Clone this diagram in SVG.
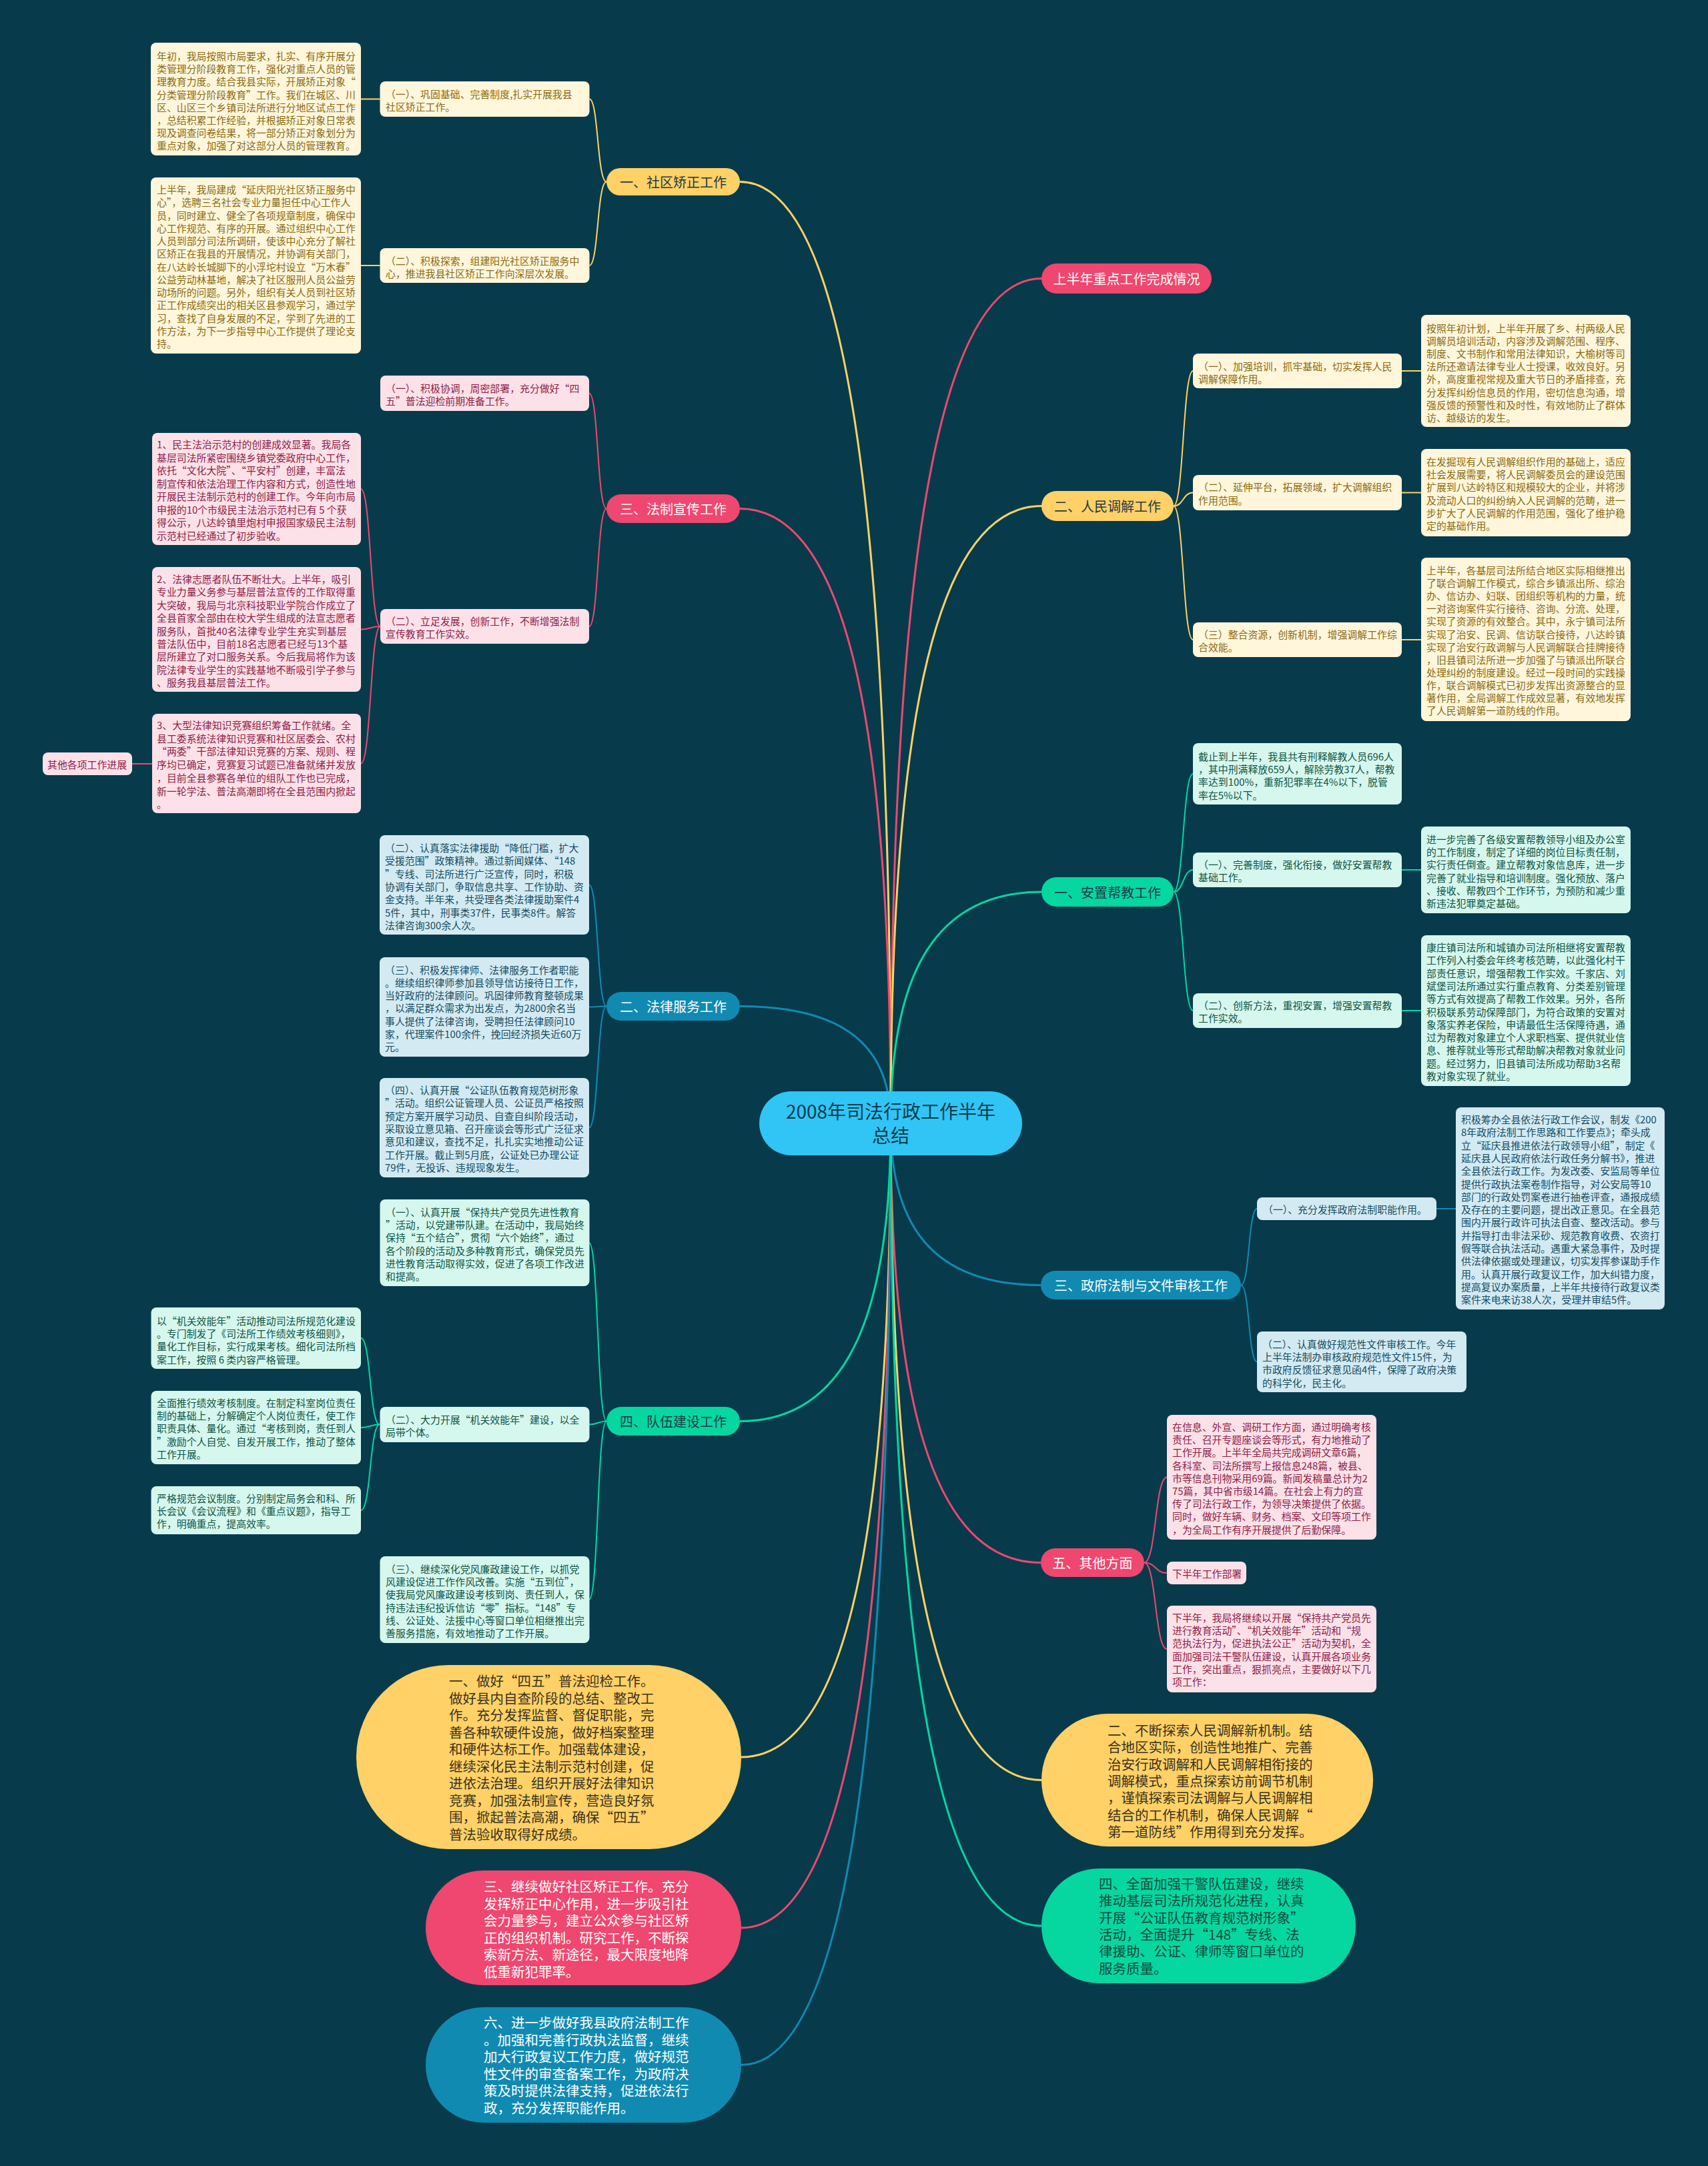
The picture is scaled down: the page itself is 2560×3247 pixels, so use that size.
<svg xmlns="http://www.w3.org/2000/svg" width="2560" height="3247" viewBox="0 0 2560 3247">
<style>
text{font-family:"Noto Sans CJK SC","Noto Sans",sans-serif;dominant-baseline:central}
.s{font-size:14.9px}
.m{font-size:20px;text-anchor:middle}
.o{font-size:20.5px}
.cy{fill:#ffd166}.cp{fill:#ef476f}.cg{fill:#06d6a0}.cb{fill:#118ab2}
.sy{fill:#fff6dc}.sp{fill:#fde1e8}.sg{fill:#d6f7ee}.sb{fill:#d3eaf3}
.ty{fill:#8a6a12}.tp{fill:#8c2146}.tg{fill:#0f5444}.tb{fill:#164c60}
.tw{fill:#ffffff}.td{fill:#1d3a46}
.ly{stroke:#ffd166}.lp{stroke:#ef476f}.lg{stroke:#06d6a0}.lb{stroke:#118ab2}
#connectors path{fill:none;stroke-width:2}
#connectors .main{stroke-width:3}
</style>
<rect x="0" y="0" width="2560" height="3247" fill="#073b4c"/>
<g id="connectors">
<path class="main ly" d="M1335,1684 C1335,837 1278.5,272.5 1109,272.5"/>
<path class="main lp" d="M1335,1684 C1335,1131 1278.5,762.5 1109,762.5"/>
<path class="main lb" d="M1335,1684 C1335,1579 1278.5,1508.5 1109,1508.5"/>
<path class="main lg" d="M1335,1684 C1335,1952 1278.5,2130.5 1109,2130.5"/>
<path class="main ly" d="M1335,1684 C1335,2254 1279,2634 1111,2634"/>
<path class="main lp" d="M1335,1684 C1335,2408 1279,2890 1111,2890"/>
<path class="main lb" d="M1335,1684 C1335,2531 1279,3095.5 1111,3095.5"/>
<path class="main lp" d="M1335,1684 C1335,924 1391.5,417.5 1561,417.5"/>
<path class="main ly" d="M1335,1684 C1335,1129 1391.5,758.5 1561,758.5"/>
<path class="main lg" d="M1335,1684 C1335,1476 1391.5,1337 1561,1337"/>
<path class="main lb" d="M1335,1684 C1335,1830 1391.5,1926.5 1560,1926.5"/>
<path class="main lp" d="M1335,1684 C1335,2079 1391.5,2342.5 1560,2342.5"/>
<path class="main ly" d="M1335,1684 C1335,2275 1391.5,2668.5 1561,2668.5"/>
<path class="main lg" d="M1335,1684 C1335,2406 1391.5,2887 1561,2887"/>
<path class="ly" d="M909,272.5 C895,272.5 897,148.5 883.5,148.5"/>
<path class="ly" d="M909,272.5 C895,272.5 897,398 883.5,398"/>
<path class="ly" d="M541,148.5 H569.5"/>
<path class="ly" d="M541,398 H569.5"/>
<path class="lp" d="M909,762.5 C895,762.5 897,589.5 883,589.5"/>
<path class="lp" d="M909,762.5 C895,762.5 897,939 883,939"/>
<path class="lp" d="M570,939 C555,939 556,733 541,733"/>
<path class="lp" d="M570,939 C555,939 556,943.5 541,943.5"/>
<path class="lp" d="M570,939 C555,939 556,1144.5 541,1144.5"/>
<path class="lp" d="M228,1145 H198"/>
<path class="lb" d="M909,1508.5 C895,1508.5 897,1326.5 883,1326.5"/>
<path class="lb" d="M909,1508.5 C895,1508.5 897,1509.5 883,1509.5"/>
<path class="lb" d="M909,1508.5 C895,1508.5 897,1690.5 883,1690.5"/>
<path class="lg" d="M909,2130.5 C895,2130.5 897,1863 883,1863"/>
<path class="lg" d="M909,2130.5 C895,2130.5 897,2135.5 883,2135.5"/>
<path class="lg" d="M909,2130.5 C895,2130.5 897,2398 883,2398"/>
<path class="lg" d="M569,2135.5 C554,2135.5 556,2006 541,2006"/>
<path class="lg" d="M569,2135.5 C554,2135.5 556,2140 541,2140"/>
<path class="lg" d="M569,2135.5 C554,2135.5 556,2264 541,2264"/>
<path class="ly" d="M1759,758.5 C1774,758.5 1773,556 1788,556"/>
<path class="ly" d="M1759,758.5 C1774,758.5 1773,738.5 1788,738.5"/>
<path class="ly" d="M1759,758.5 C1774,758.5 1773,959 1788,959"/>
<path class="ly" d="M2101,556 H2130"/>
<path class="ly" d="M2101,738.5 H2130"/>
<path class="ly" d="M2101,959 H2130"/>
<path class="lg" d="M1759,1337 C1774,1337 1773,1160 1788,1160"/>
<path class="lg" d="M1759,1337 C1774,1337 1773,1304 1788,1304"/>
<path class="lg" d="M1759,1337 C1774,1337 1773,1515 1788,1515"/>
<path class="lg" d="M2101,1304 H2130"/>
<path class="lg" d="M2101,1515 H2130"/>
<path class="lb" d="M1860,1926.5 C1873,1926.5 1871,1812 1884,1812"/>
<path class="lb" d="M1860,1926.5 C1873,1926.5 1871,2041.5 1884,2041.5"/>
<path class="lb" d="M2153,1812 H2182"/>
<path class="lp" d="M1715,2342.5 C1733,2342.5 1731,2214.5 1749,2214.5"/>
<path class="lp" d="M1715,2342.5 C1733,2342.5 1731,2358 1749,2358"/>
<path class="lp" d="M1715,2342.5 C1733,2342.5 1731,2472 1749,2472"/>
</g>

<g id="center"><rect x="1138" y="1636" width="394" height="96" rx="48" fill="#30c5f5"/>
<text font-size="28" text-anchor="middle" fill="#0b3a4c"><tspan x="1335" y="1665">2008年司法行政工作半年</tspan><tspan x="1335" y="1701">总结</tspan></text></g>

<g id="n-shequ"><rect class="cy" x="909" y="252" width="200" height="41" rx="20.5"/><text class="m td" x="1009" y="272.5">一、社区矫正工作</text></g>
<g id="n-fazhi"><rect class="cp" x="909" y="741" width="200" height="43" rx="21.5"/><text class="m tw" x="1009" y="762.5">三、法制宣传工作</text></g>
<g id="n-falv"><rect class="cb" x="909" y="1487" width="200" height="43" rx="21.5"/><text class="m tw" x="1009" y="1508.5">二、法律服务工作</text></g>
<g id="n-duiwu"><rect class="cg" x="909" y="2109" width="200" height="43" rx="21.5"/><text class="m td" x="1009" y="2130.5">四、队伍建设工作</text></g>
<g id="n-shangban"><rect class="cp" x="1561" y="395" width="255" height="45" rx="22.5"/><text class="m tw" x="1688.5" y="417.5" font-size="19">上半年重点工作完成情况</text></g>
<g id="n-tiaojie"><rect class="cy" x="1561" y="736" width="198" height="45" rx="22.5"/><text class="m td" x="1660" y="758.5">二、人民调解工作</text></g>
<g id="n-anzhi"><rect class="cg" x="1561" y="1315" width="198" height="44" rx="22"/><text class="m td" x="1660" y="1337">一、安置帮教工作</text></g>
<g id="n-zhengfu"><rect class="cb" x="1560" y="1905" width="300" height="43" rx="21.5"/><text class="m tw" x="1710" y="1926.5">三、政府法制与文件审核工作</text></g>
<g id="n-qita"><rect class="cp" x="1560" y="2321" width="155" height="43" rx="21.5"/><text class="m tw" x="1637.5" y="2342.5">五、其他方面</text></g>

<g id="s-a"><rect class="sy" x="226" y="64" width="315" height="169" rx="8"/><text class="s ty"><tspan x="235" y="83">年初，我局按照市局要求，扎实、有序开展分</tspan><tspan x="235" y="102.2">类管理分阶段教育工作，强化对重点人员的管</tspan><tspan x="235" y="121.4">理教育力度。结合我县实际，开展矫正对象“</tspan><tspan x="235" y="140.6">分类管理分阶段教育”工作。我们在城区、川</tspan><tspan x="235" y="159.8">区、山区三个乡镇司法所进行分地区试点工作</tspan><tspan x="235" y="179">，总结积累工作经验，并根据矫正对象日常表</tspan><tspan x="235" y="198.2">现及调查问卷结果，将一部分矫正对象划分为</tspan><tspan x="235" y="217.4">重点对象，加强了对这部分人员的管理教育。</tspan></text></g>
<g id="s-b"><rect class="sy" x="569.5" y="122" width="314" height="53" rx="8"/><text class="s ty"><tspan x="578" y="140">（一）、巩固基础、完善制度,扎实开展我县</tspan><tspan x="578" y="159">社区矫正工作。</tspan></text></g>
<g id="s-c"><rect class="sy" x="226" y="266" width="315" height="264" rx="8"/><text class="s ty"><tspan x="235" y="283">上半年，我局建成“延庆阳光社区矫正服务中</tspan><tspan x="235" y="302.2">心”，选聘三名社会专业力量担任中心工作人</tspan><tspan x="235" y="321.5">员，同时建立、健全了各项规章制度，确保中</tspan><tspan x="235" y="340.7">心工作规范、有序的开展。通过组织中心工作</tspan><tspan x="235" y="360">人员到部分司法所调研，使该中心充分了解社</tspan><tspan x="235" y="379.2">区矫正在我县的开展情况，并协调有关部门，</tspan><tspan x="235" y="398.5">在八达岭长城脚下的小浮坨村设立“万木春”</tspan><tspan x="235" y="417.7">公益劳动林基地，解决了社区服刑人员公益劳</tspan><tspan x="235" y="437">动场所的问题。另外，组织有关人员到社区矫</tspan><tspan x="235" y="456.2">正工作成绩突出的相关区县参观学习，通过学</tspan><tspan x="235" y="475.5">习，查找了自身发展的不足，学到了先进的工</tspan><tspan x="235" y="494.7">作方法，为下一步指导中心工作提供了理论支</tspan><tspan x="235" y="514">持。</tspan></text></g>
<g id="s-d"><rect class="sy" x="569.5" y="372" width="314" height="52" rx="8"/><text class="s ty"><tspan x="578" y="390">（二）、积极探索，组建阳光社区矫正服务中</tspan><tspan x="578" y="409">心，推进我县社区矫正工作向深层次发展。</tspan></text></g>

<g id="s-p1"><rect class="sp" x="570" y="563" width="313" height="53" rx="8"/><text class="s tp"><tspan x="578" y="581">（一）、积极协调，周密部署，充分做好“四</tspan><tspan x="578" y="600">五”普法迎检前期准备工作。</tspan></text></g>
<g id="s-p2"><rect class="sp" x="570" y="913" width="313" height="52" rx="8"/><text class="s tp"><tspan x="578" y="930">（二）、立足发展，创新工作，不断增强法制</tspan><tspan x="578" y="949">宣传教育工作实效。</tspan></text></g>
<g id="s-n1"><rect class="sp" x="228" y="649" width="313" height="168" rx="8"/><text class="s tp"><tspan x="235" y="665">1、民主法治示范村的创建成效显著。我局各</tspan><tspan x="235" y="684.5">基层司法所紧密围绕乡镇党委政府中心工作，</tspan><tspan x="235" y="704">依托“文化大院”、“平安村”创建，丰富法</tspan><tspan x="235" y="723.5">制宣传和依法治理工作内容和方式，创造性地</tspan><tspan x="235" y="743">开展民主法制示范村的创建工作。今年向市局</tspan><tspan x="235" y="762.5">申报的10个市级民主法治示范村已有 5 个获</tspan><tspan x="235" y="782">得公示，八达岭镇里炮村申报国家级民主法制</tspan><tspan x="235" y="801.5">示范村已经通过了初步验收。</tspan></text></g>
<g id="s-n2"><rect class="sp" x="228" y="850" width="313" height="187" rx="8"/><text class="s tp"><tspan x="235" y="867">2、法律志愿者队伍不断壮大。上半年，吸引</tspan><tspan x="235" y="886.4">专业力量义务参与基层普法宣传的工作取得重</tspan><tspan x="235" y="905.8">大突破，我局与北京科技职业学院合作成立了</tspan><tspan x="235" y="925.2">全县首家全部由在校大学生组成的法宣志愿者</tspan><tspan x="235" y="944.6">服务队，首批40名法律专业学生充实到基层</tspan><tspan x="235" y="964">普法队伍中，目前18名志愿者已经与13个基</tspan><tspan x="235" y="983.4">层所建立了对口服务关系。今后我局将作为该</tspan><tspan x="235" y="1002.8">院法律专业学生的实践基地不断吸引学子参与</tspan><tspan x="235" y="1022.2">、服务我县基层普法工作。</tspan></text></g>
<g id="s-n3"><rect class="sp" x="228" y="1070" width="313" height="149" rx="8"/><text class="s tp"><tspan x="235" y="1086">3、大型法律知识竞赛组织筹备工作就绪。全</tspan><tspan x="235" y="1105.7">县工委系统法律知识竞赛和社区居委会、农村</tspan><tspan x="235" y="1125.4">“两委”干部法律知识竞赛的方案、规则、程</tspan><tspan x="235" y="1145.1">序均已确定，竞赛复习试题已准备就绪并发放</tspan><tspan x="235" y="1164.8">，目前全县参赛各单位的组队工作也已完成，</tspan><tspan x="235" y="1184.5">新一轮学法、普法高潮即将在全县范围内掀起</tspan><tspan x="235" y="1204.2">。</tspan></text></g>
<g id="s-qita"><rect class="sp" x="64" y="1128" width="134" height="34" rx="8"/><text class="s tp" x="71" y="1145">其他各项工作进展</text></g>

<g id="s-l1"><rect class="sb" x="569" y="1252" width="314" height="149" rx="8"/><text class="s tb"><tspan x="577" y="1270">（二）、认真落实法律援助“降低门槛，扩大</tspan><tspan x="577" y="1289.3">受援范围”政策精神。通过新闻媒体、“148</tspan><tspan x="577" y="1308.6">”专线、司法所进行广泛宣传，同时，积极</tspan><tspan x="577" y="1327.9">协调有关部门，争取信息共享、工作协助、资</tspan><tspan x="577" y="1347.2">金支持。半年来，共受理各类法律援助案件4</tspan><tspan x="577" y="1366.5">5件，其中，刑事类37件，民事类8件。解答</tspan><tspan x="577" y="1385.8">法律咨询300余人次。</tspan></text></g>
<g id="s-l2"><rect class="sb" x="569" y="1435" width="314" height="149" rx="8"/><text class="s tb"><tspan x="577" y="1452.5">（三）、积极发挥律师、法律服务工作者职能</tspan><tspan x="577" y="1471.8">。继续组织律师参加县领导信访接待日工作，</tspan><tspan x="577" y="1491.1">当好政府的法律顾问。巩固律师教育整顿成果</tspan><tspan x="577" y="1510.4">，以满足群众需求为出发点，为2800余名当</tspan><tspan x="577" y="1529.7">事人提供了法律咨询，受聘担任法律顾问10</tspan><tspan x="577" y="1549">家，代理案件100余件，挽回经济损失近60万</tspan><tspan x="577" y="1568.3">元。</tspan></text></g>
<g id="s-l3"><rect class="sb" x="569" y="1616" width="314" height="149" rx="8"/><text class="s tb"><tspan x="577" y="1633">（四）、认真开展“公证队伍教育规范树形象</tspan><tspan x="577" y="1652.3">”活动。组织公证管理人员、公证员严格按照</tspan><tspan x="577" y="1671.6">预定方案开展学习动员、自查自纠阶段活动，</tspan><tspan x="577" y="1690.9">采取设立意见箱、召开座谈会等形式广泛征求</tspan><tspan x="577" y="1710.2">意见和建议，查找不足，扎扎实实地推动公证</tspan><tspan x="577" y="1729.5">工作开展。截止到5月底，公证处已办理公证</tspan><tspan x="577" y="1748.8">79件，无投诉、违规现象发生。</tspan></text></g>

<g id="s-t1"><rect class="sg" x="569.5" y="1798" width="314" height="130" rx="8"/><text class="s tg"><tspan x="578" y="1816">（一）、认真开展“保持共产党员先进性教育</tspan><tspan x="578" y="1835.2">”活动，以党建带队建。在活动中，我局始终</tspan><tspan x="578" y="1854.4">保持“五个结合”，贯彻“六个始终”，通过</tspan><tspan x="578" y="1873.6">各个阶段的活动及多种教育形式，确保党员先</tspan><tspan x="578" y="1892.8">进性教育活动取得实效，促进了各项工作改进</tspan><tspan x="578" y="1912">和提高。</tspan></text></g>
<g id="s-t2"><rect class="sg" x="569.5" y="2109" width="314" height="53" rx="8"/><text class="s tg"><tspan x="578" y="2127">（二）、大力开展“机关效能年”建设，以全</tspan><tspan x="578" y="2146">局带个体。</tspan></text></g>
<g id="s-t3"><rect class="sg" x="569.5" y="2333" width="314" height="130" rx="8"/><text class="s tg"><tspan x="578" y="2351">（三）、继续深化党风廉政建设工作，以抓党</tspan><tspan x="578" y="2370.2">风建设促进工作作风改善。实施“五到位”，</tspan><tspan x="578" y="2389.4">使我局党风廉政建设考核到岗、责任到人，保</tspan><tspan x="578" y="2408.6">持违法违纪投诉信访“零”指标。“148”专</tspan><tspan x="578" y="2427.8">线、公证处、法援中心等窗口单位相继推出完</tspan><tspan x="578" y="2447">善服务措施，有效地推动了工作开展。</tspan></text></g>
<g id="s-s1"><rect class="sg" x="226.5" y="1960" width="314.5" height="92" rx="8"/><text class="s tg"><tspan x="235" y="1979">以“机关效能年”活动推动司法所规范化建设</tspan><tspan x="235" y="1998.2">。专门制发了《司法所工作绩效考核细则》，</tspan><tspan x="235" y="2017.4">量化工作目标，实行成果考核。细化司法所档</tspan><tspan x="235" y="2036.6">案工作，按照 6 类内容严格管理。</tspan></text></g>
<g id="s-s2"><rect class="sg" x="226.5" y="2085" width="314.5" height="110" rx="8"/><text class="s tg"><tspan x="235" y="2102">全面推行绩效考核制度。在制定科室岗位责任</tspan><tspan x="235" y="2121.2">制的基础上，分解确定个人岗位责任，使工作</tspan><tspan x="235" y="2140.4">职责具体、量化。通过“考核到岗，责任到人</tspan><tspan x="235" y="2159.6">”激励个人自觉、自发开展工作，推动了整体</tspan><tspan x="235" y="2178.8">工作开展。</tspan></text></g>
<g id="s-s3"><rect class="sg" x="226.5" y="2228" width="314.5" height="72" rx="8"/><text class="s tg"><tspan x="235" y="2245">严格规范会议制度。分别制定局务会和科、所</tspan><tspan x="235" y="2264.2">长会议《会议流程》和《重点议题》，指导工</tspan><tspan x="235" y="2283.4">作，明确重点，提高效率。</tspan></text></g>

<g id="o-y1"><rect class="cy" x="534" y="2496" width="577" height="276" rx="138"/><text class="o" fill="#3a3320"><tspan x="673" y="2519">一、做好“四五”普法迎检工作。</tspan><tspan x="673" y="2544.5">做好县内自查阶段的总结、整改工</tspan><tspan x="673" y="2570">作。充分发挥监督、督促职能，完</tspan><tspan x="673" y="2595.5">善各种软硬件设施，做好档案整理</tspan><tspan x="673" y="2621">和硬件达标工作。加强载体建设，</tspan><tspan x="673" y="2646.5">继续深化民主法制示范村创建，促</tspan><tspan x="673" y="2672">进依法治理。组织开展好法律知识</tspan><tspan x="673" y="2697.5">竞赛，加强法制宣传，营造良好氛</tspan><tspan x="673" y="2723">围，掀起普法高潮，确保“四五”</tspan><tspan x="673" y="2748.5">普法验收取得好成绩。</tspan></text></g>
<g id="o-p"><rect class="cp" x="638" y="2804" width="473" height="172" rx="86"/><text class="o tw"><tspan x="725" y="2827">三、继续做好社区矫正工作。充分</tspan><tspan x="725" y="2852.5">发挥矫正中心作用，进一步吸引社</tspan><tspan x="725" y="2878">会力量参与，建立公众参与社区矫</tspan><tspan x="725" y="2903.5">正的组织机制。研究工作，不断探</tspan><tspan x="725" y="2929">索新方法、新途径，最大限度地降</tspan><tspan x="725" y="2954.5">低重新犯罪率。</tspan></text></g>
<g id="o-b"><rect class="cb" x="638" y="3009" width="473" height="173" rx="86.5"/><text class="o tw"><tspan x="725" y="3031">六、进一步做好我县政府法制工作</tspan><tspan x="725" y="3056.5">。加强和完善行政执法监督，继续</tspan><tspan x="725" y="3082">加大行政复议工作力度，做好规范</tspan><tspan x="725" y="3107.5">性文件的审查备案工作，为政府决</tspan><tspan x="725" y="3133">策及时提供法律支持，促进依法行</tspan><tspan x="725" y="3158.5">政，充分发挥职能作用。</tspan></text></g>
<g id="o-y2"><rect class="cy" x="1561" y="2569" width="497" height="199" rx="99.5"/><text class="o" fill="#3a3320"><tspan x="1660" y="2593">二、不断探索人民调解新机制。结</tspan><tspan x="1660" y="2618.3">合地区实际，创造性地推广、完善</tspan><tspan x="1660" y="2643.6">治安行政调解和人民调解相衔接的</tspan><tspan x="1660" y="2668.9">调解模式，重点探索访前调节机制</tspan><tspan x="1660" y="2694.2">，谨慎探索司法调解与人民调解相</tspan><tspan x="1660" y="2719.5">结合的工作机制，确保人民调解“</tspan><tspan x="1660" y="2744.8">第一道防线”作用得到充分发挥。</tspan></text></g>
<g id="o-g"><rect class="cg" x="1561" y="2801" width="471" height="172" rx="86"/><text class="o" fill="#114b3c"><tspan x="1647" y="2823">四、全面加强干警队伍建设，继续</tspan><tspan x="1647" y="2848.3">推动基层司法所规范化进程，认真</tspan><tspan x="1647" y="2873.6">开展“公证队伍教育规范树形象”</tspan><tspan x="1647" y="2898.9">活动，全面提升“148”专线、法</tspan><tspan x="1647" y="2924.2">律援助、公证、律师等窗口单位的</tspan><tspan x="1647" y="2949.5">服务质量。</tspan></text></g>

<g id="s-r1"><rect class="sy" x="1788" y="530" width="313" height="52" rx="8"/><text class="s ty"><tspan x="1796" y="548">（一）、加强培训，抓牢基础，切实发挥人民</tspan><tspan x="1796" y="567">调解保障作用。</tspan></text></g>
<g id="s-r1d"><rect class="sy" x="2130" y="472" width="314" height="168" rx="8"/><text class="s ty"><tspan x="2138" y="490.6">按照年初计划，上半年开展了乡、村两级人民</tspan><tspan x="2138" y="509.8">调解员培训活动，内容涉及调解范围、程序、</tspan><tspan x="2138" y="529">制度、文书制作和常用法律知识，大榆树等司</tspan><tspan x="2138" y="548.2">法所还邀请法律专业人士授课，收效良好。另</tspan><tspan x="2138" y="567.4">外，高度重视常规及重大节日的矛盾排查，充</tspan><tspan x="2138" y="586.6">分发挥纠纷信息员的作用，密切信息沟通，增</tspan><tspan x="2138" y="605.8">强反馈的预警性和及时性，有效地防止了群体</tspan><tspan x="2138" y="625">访、越级访的发生。</tspan></text></g>
<g id="s-r2"><rect class="sy" x="1788" y="712" width="313" height="53" rx="8"/><text class="s ty"><tspan x="1796" y="729">（二）、延伸平台，拓展领域，扩大调解组织</tspan><tspan x="1796" y="748.5">作用范围。</tspan></text></g>
<g id="s-r2d"><rect class="sy" x="2130" y="673" width="314" height="131" rx="8"/><text class="s ty"><tspan x="2138" y="691">在发掘现有人民调解组织作用的基础上，适应</tspan><tspan x="2138" y="710.2">社会发展需要，将人民调解委员会的建设范围</tspan><tspan x="2138" y="729.4">扩展到八达岭特区和规模较大的企业，并将涉</tspan><tspan x="2138" y="748.6">及流动人口的纠纷纳入人民调解的范畴，进一</tspan><tspan x="2138" y="767.8">步扩大了人民调解的作用范围，强化了维护稳</tspan><tspan x="2138" y="787">定的基础作用。</tspan></text></g>
<g id="s-r3"><rect class="sy" x="1788" y="933" width="313" height="52" rx="8"/><text class="s ty"><tspan x="1796" y="950">（三）整合资源，创新机制，增强调解工作综</tspan><tspan x="1796" y="969">合效能。</tspan></text></g>
<g id="s-r3d"><rect class="sy" x="2130" y="836" width="314" height="245" rx="8"/><text class="s ty"><tspan x="2138" y="854">上半年，各基层司法所结合地区实际相继推出</tspan><tspan x="2138" y="873.1">了联合调解工作模式，综合乡镇派出所、综治</tspan><tspan x="2138" y="892.2">办、信访办、妇联、团组织等机构的力量，统</tspan><tspan x="2138" y="911.3">一对咨询案件实行接待、咨询、分流、处理，</tspan><tspan x="2138" y="930.4">实现了资源的有效整合。其中，永宁镇司法所</tspan><tspan x="2138" y="949.5">实现了治安、民调、信访联合接待，八达岭镇</tspan><tspan x="2138" y="968.6">实现了治安行政调解与人民调解联合挂牌接待</tspan><tspan x="2138" y="987.7">，旧县镇司法所进一步加强了与镇派出所联合</tspan><tspan x="2138" y="1006.8">处理纠纷的制度建设。经过一段时间的实践操</tspan><tspan x="2138" y="1025.9">作，联合调解模式已初步发挥出资源整合的显</tspan><tspan x="2138" y="1045">著作用，全局调解工作成效显著，有效地发挥</tspan><tspan x="2138" y="1064.1">了人民调解第一道防线的作用。</tspan></text></g>

<g id="s-g0"><rect class="sg" x="1788" y="1114" width="313" height="92" rx="8"/><text class="s tg"><tspan x="1796" y="1133">截止到上半年，我县共有刑释解教人员696人</tspan><tspan x="1796" y="1152.2">，其中刑满释放659人，解除劳教37人，帮教</tspan><tspan x="1796" y="1171.4">率达到100%，重新犯罪率在4%以下，脱管</tspan><tspan x="1796" y="1190.6">率在5%以下。</tspan></text></g>
<g id="s-g1"><rect class="sg" x="1788" y="1278" width="313" height="52" rx="8"/><text class="s tg"><tspan x="1796" y="1295">（一）、完善制度，强化衔接，做好安置帮教</tspan><tspan x="1796" y="1314">基础工作。</tspan></text></g>
<g id="s-g1d"><rect class="sg" x="2130" y="1239" width="314" height="130" rx="8"/><text class="s tg"><tspan x="2138" y="1257">进一步完善了各级安置帮教领导小组及办公室</tspan><tspan x="2138" y="1276.2">的工作制度，制定了详细的岗位目标责任制，</tspan><tspan x="2138" y="1295.4">实行责任倒查。建立帮教对象信息库，进一步</tspan><tspan x="2138" y="1314.6">完善了就业指导和培训制度。强化预放、落户</tspan><tspan x="2138" y="1333.8">、接收、帮教四个工作环节，为预防和减少重</tspan><tspan x="2138" y="1353">新违法犯罪奠定基础。</tspan></text></g>
<g id="s-g2"><rect class="sg" x="1788" y="1489" width="313" height="52" rx="8"/><text class="s tg"><tspan x="1796" y="1506">（二）、创新方法，重视安置，增强安置帮教</tspan><tspan x="1796" y="1525">工作实效。</tspan></text></g>
<g id="s-g2d"><rect class="sg" x="2130" y="1402" width="314" height="226" rx="8"/><text class="s tg"><tspan x="2138" y="1419">康庄镇司法所和城镇办司法所相继将安置帮教</tspan><tspan x="2138" y="1438.3">工作列入村委会年终考核范畴，以此强化村干</tspan><tspan x="2138" y="1457.6">部责任意识，增强帮教工作实效。千家店、刘</tspan><tspan x="2138" y="1476.9">斌堡司法所通过实行重点教育、分类差别管理</tspan><tspan x="2138" y="1496.2">等方式有效提高了帮教工作效果。另外，各所</tspan><tspan x="2138" y="1515.5">积极联系劳动保障部门，为符合政策的安置对</tspan><tspan x="2138" y="1534.8">象落实养老保险，申请最低生活保障待遇，通</tspan><tspan x="2138" y="1554.1">过为帮教对象建立个人求职档案、提供就业信</tspan><tspan x="2138" y="1573.4">息、推荐就业等形式帮助解决帮教对象就业问</tspan><tspan x="2138" y="1592.7">题。经过努力，旧县镇司法所成功帮助3名帮</tspan><tspan x="2138" y="1612">教对象实现了就业。</tspan></text></g>

<g id="s-b1"><rect class="sb" x="1884" y="1795" width="269" height="34" rx="8"/><text class="s tb" x="1893" y="1812">（一）、充分发挥政府法制职能作用。</text></g>
<g id="s-b1d"><rect class="sb" x="2182" y="1660" width="313" height="303" rx="8"/><text class="s tb"><tspan x="2190" y="1677">积极筹办全县依法行政工作会议，制发《200</tspan><tspan x="2190" y="1696.3">8年政府法制工作思路和工作要点》；牵头成</tspan><tspan x="2190" y="1715.6">立“延庆县推进依法行政领导小组”，制定《</tspan><tspan x="2190" y="1734.9">延庆县人民政府依法行政任务分解书》，推进</tspan><tspan x="2190" y="1754.2">全县依法行政工作。为发改委、安监局等单位</tspan><tspan x="2190" y="1773.5">提供行政执法案卷制作指导，对公安局等10</tspan><tspan x="2190" y="1792.8">部门的行政处罚案卷进行抽卷评查，通报成绩</tspan><tspan x="2190" y="1812.1">及存在的主要问题，提出改正意见。在全县范</tspan><tspan x="2190" y="1831.4">围内开展行政许可执法自查、整改活动。参与</tspan><tspan x="2190" y="1850.7">并指导打击非法采砂、规范教育收费、农资打</tspan><tspan x="2190" y="1870">假等联合执法活动。遇重大紧急事件，及时提</tspan><tspan x="2190" y="1889.3">供法律依据或处理建议，切实发挥参谋助手作</tspan><tspan x="2190" y="1908.6">用。认真开展行政复议工作，加大纠错力度，</tspan><tspan x="2190" y="1927.9">提高复议办案质量，上半年共接待行政复议类</tspan><tspan x="2190" y="1947.2">案件来电来访38人次，受理并审结5件。</tspan></text></g>
<g id="s-b2"><rect class="sb" x="1884" y="1996" width="314" height="91" rx="8"/><text class="s tb"><tspan x="1892" y="2014">（二）、认真做好规范性文件审核工作。今年</tspan><tspan x="1892" y="2033.2">上半年法制办审核政府规范性文件15件，为</tspan><tspan x="1892" y="2052.4">市政府反馈征求意见函4件，保障了政府决策</tspan><tspan x="1892" y="2071.6">的科学化，民主化。</tspan></text></g>

<g id="s-o1"><rect class="sp" x="1749" y="2121" width="314" height="187" rx="8"/><text class="s tp"><tspan x="1757" y="2138">在信息、外宣、调研工作方面，通过明确考核</tspan><tspan x="1757" y="2157.2">责任、召开专题座谈会等形式，有力地推动了</tspan><tspan x="1757" y="2176.4">工作开展。上半年全局共完成调研文章6篇，</tspan><tspan x="1757" y="2195.6">各科室、司法所撰写上报信息248篇，被县、</tspan><tspan x="1757" y="2214.8">市等信息刊物采用69篇。新闻发稿量总计为2</tspan><tspan x="1757" y="2234">75篇，其中省市级14篇。在社会上有力的宣</tspan><tspan x="1757" y="2253.2">传了司法行政工作，为领导决策提供了依据。</tspan><tspan x="1757" y="2272.4">同时，做好车辆、财务、档案、文印等项工作</tspan><tspan x="1757" y="2291.6">，为全局工作有序开展提供了后勤保障。</tspan></text></g>
<g id="s-o2"><rect class="sp" x="1749" y="2341" width="119" height="34" rx="8"/><text class="s tp" x="1757" y="2358">下半年工作部署</text></g>
<g id="s-o3"><rect class="sp" x="1749" y="2407" width="314" height="130" rx="8"/><text class="s tp"><tspan x="1757" y="2424">下半年，我局将继续以开展“保持共产党员先</tspan><tspan x="1757" y="2443.2">进行教育活动”、“机关效能年”活动和“规</tspan><tspan x="1757" y="2462.4">范执法行为，促进执法公正”活动为契机，全</tspan><tspan x="1757" y="2481.6">面加强司法干警队伍建设，认真开展各项业务</tspan><tspan x="1757" y="2500.8">工作，突出重点，狠抓亮点，主要做好以下几</tspan><tspan x="1757" y="2520">项工作：</tspan></text></g>
</svg>
